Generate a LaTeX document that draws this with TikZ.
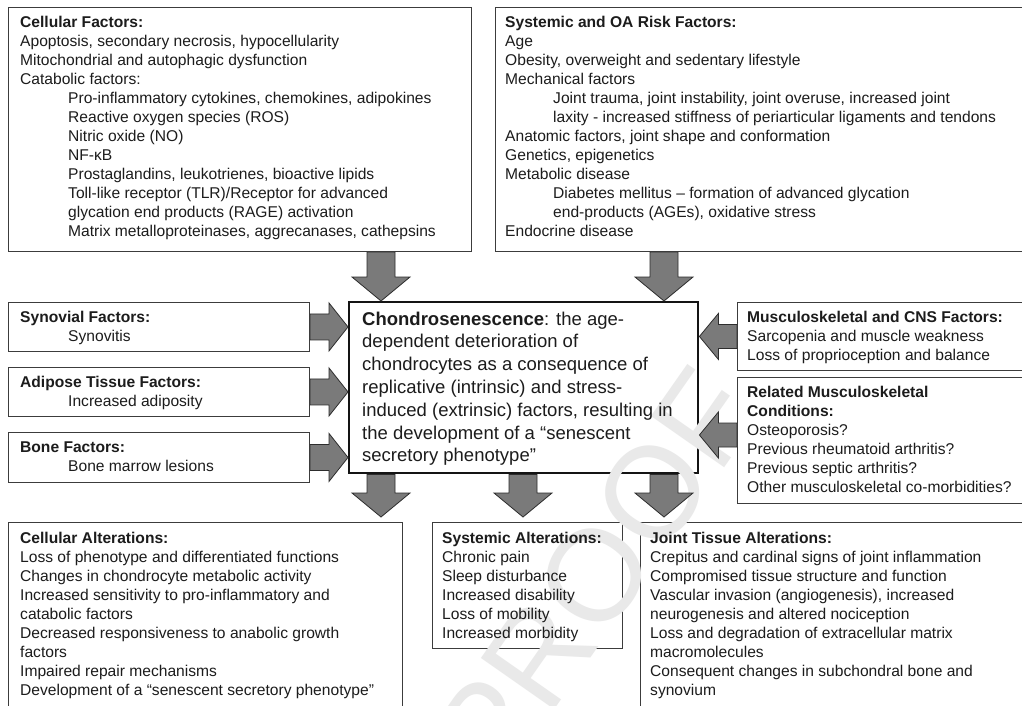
\documentclass[tikz,border=0pt]{standalone}
\usepackage{fontspec}
\setmainfont{Liberation Sans}
\usetikzlibrary{calc}
\definecolor{arrfill}{RGB}{122,122,122}
\definecolor{arredge}{RGB}{45,45,45}
\definecolor{boxedge}{RGB}{60,60,60}
\definecolor{ink}{RGB}{28,28,28}
\definecolor{wmgray}{RGB}{233,233,233}
\newcommand\Lx[1]{\hbox{#1}}
\newcommand\Ly[1]{\hbox{\hskip48pt #1}}
\newcommand\arrdown[2]{\path[barrow] let \p1=(#1), \p2=(#2) in
  (\x1-14pt,\y1) -- (\x1+14pt,\y1) -- (\x1+14pt,\y2+24pt) -- (\x1+29pt,\y2+24pt)
  -- (\x1,\y2) -- (\x1-29pt,\y2+24pt) -- (\x1-14pt,\y2+24pt) -- cycle;}
\newcommand\arrright[2]{\path[barrow] let \p1=(#1), \p2=(#2) in
  (\x1,\y1+13pt) -- (\x2-19pt,\y1+13pt) -- (\x2-19pt,\y1+24pt) -- (\x2,\y1)
  -- (\x2-19pt,\y1-24pt) -- (\x2-19pt,\y1-13pt) -- (\x1,\y1-13pt) -- cycle;}
\newcommand\arrleft[2]{\path[barrow] let \p1=(#1), \p2=(#2) in
  (\x1,\y1+12pt) -- (\x2+19pt,\y1+12pt) -- (\x2+19pt,\y1+23pt) -- (\x2,\y1)
  -- (\x2+19pt,\y1-23pt) -- (\x2+19pt,\y1-12pt) -- (\x1,\y1-12pt) -- cycle;}
\tikzset{
  box/.style={draw=boxedge, line width=0.9pt, fill=white, inner sep=0pt, anchor=north west},
  mainbox/.style={box, draw=black!92, line width=2.4pt},
  barrow/.style={fill=arrfill, draw=arredge, line width=0.8pt, line join=miter},
  txt/.style={inner sep=0pt, anchor=base west, text=ink, font=\fontsize{15.6}{19}\selectfont},
  ctxt/.style={txt, font=\fontsize{18.5}{22.8}\selectfont},
  wm/.style={inner sep=0pt, text=wmgray, font=\fontsize{130}{130}\selectfont}
}
\begin{document}
\begin{tikzpicture}[x=1pt,y=1pt]
\useasboundingbox (0,0) rectangle (1022,-706);
\clip (0,0) rectangle (1022,-706);
\fill[white] (0,0) rectangle (1022,-706);

% boxes
\node[box, minimum width=463, minimum height=244] (b1) at (8,-7) {};
\node[box, minimum width=540, minimum height=244] (b2) at (495,-7) {};
\node[mainbox, minimum width=349, minimum height=171] (c) at (348,-301) {};
\node[box, minimum width=301, minimum height=49] (s1) at (8,-302) {};
\node[box, minimum width=301, minimum height=49] (s2) at (8,-367) {};
\node[box, minimum width=301, minimum height=50] (s3) at (8,-432) {};
\node[box, minimum width=300, minimum height=68] (r1) at (737,-302) {};
\node[box, minimum width=300, minimum height=126] (r2) at (737,-377) {};
\node[box, minimum width=394, minimum height=200] (d1) at (8,-522) {};
\node[box, minimum width=190, minimum height=126] (d2) at (432,-522) {};
\node[box, minimum width=400, minimum height=200] (d3) at (640,-522) {};

% watermark
\node[wm, rotate=55] (wm) at (595,-575) {PROOF};

% arrow positions
\coordinate (ax1) at (381,0);
\coordinate (ax2) at (664,0);
\coordinate (ax3) at (523,0);
\coordinate (ry) at (0,-435);

\arrdown{b1.south -| ax1}{c.north -| ax1}
\arrdown{b2.south -| ax2}{c.north -| ax2}
\arrright{s1.east}{s1.east -| c.west}
\arrright{s2.east}{s2.east -| c.west}
\arrright{s3.east}{s3.east -| c.west}
\arrleft{r1.west}{r1.west -| c.east}
\arrleft{r2.west |- ry}{c.east |- ry}
\arrdown{c.south -| ax1}{$(d1.north -| ax1)+(0,5)$}
\arrdown{c.south -| ax3}{$(d2.north -| ax3)+(0,5)$}
\arrdown{c.south -| ax2}{$(d3.north -| ax2)+(0,5)$}

% texts
\node[txt] (t1) at ($(b1.north west)+(12,-21)$) {\vtop{%
\Lx{\bfseries Cellular Factors:}
\Lx{Apoptosis, secondary necrosis, hypocellularity}
\Lx{Mitochondrial and autophagic dysfunction}
\Lx{Catabolic factors:}
\Ly{Pro-inflammatory cytokines, chemokines, adipokines}
\Ly{Reactive oxygen species (ROS)}
\Ly{Nitric oxide (NO)}
\Ly{NF-κB}
\Ly{Prostaglandins, leukotrienes, bioactive lipids}
\Ly{Toll-like receptor (TLR)/Receptor for advanced}
\Ly{glycation end products (RAGE) activation}
\Ly{Matrix metalloproteinases, aggrecanases, cathepsins}}};

\node[txt] (t2) at ($(b2.north west)+(10,-21)$) {\vtop{%
\Lx{\bfseries Systemic and OA Risk Factors:}
\Lx{Age}
\Lx{Obesity, overweight and sedentary lifestyle}
\Lx{Mechanical factors}
\Ly{Joint trauma, joint instability, joint overuse, increased joint}
\Ly{laxity - increased stiffness of periarticular ligaments and tendons}
\Lx{Anatomic factors, joint shape and conformation}
\Lx{Genetics, epigenetics}
\Lx{Metabolic disease}
\Ly{Diabetes mellitus – formation of advanced glycation}
\Ly{end-products (AGEs), oxidative stress}
\Lx{Endocrine disease}}};

\node[ctxt] (tc) at ($(c.north west)+(14,-24)$) {\vtop{%
\Lx{\textbf{Chondrosenescence}: the age-}
\Lx{dependent deterioration of}
\Lx{chondrocytes as a consequence of}
\Lx{replicative (intrinsic) and stress-}
\Lx{induced (extrinsic) factors, resulting in}
\Lx{the development of a “senescent}
\Lx{secretory phenotype”}}};

\node[txt] (ts1) at ($(s1.north west)+(12,-20.5)$) {\vtop{%
\Lx{\bfseries Synovial Factors:}
\Ly{Synovitis}}};
\node[txt] (ts2) at ($(s2.north west)+(12,-20.5)$) {\vtop{%
\Lx{\bfseries Adipose Tissue Factors:}
\Ly{Increased adiposity}}};
\node[txt] (ts3) at ($(s3.north west)+(12,-20.5)$) {\vtop{%
\Lx{\bfseries Bone Factors:}
\Ly{Bone marrow lesions}}};

\node[txt] (tr1) at ($(r1.north west)+(10,-20.5)$) {\vtop{%
\Lx{\bfseries Musculoskeletal and CNS Factors:}
\Lx{Sarcopenia and muscle weakness}
\Lx{Loss of proprioception and balance}}};
\node[txt] (tr2) at ($(r2.north west)+(10,-20.5)$) {\vtop{%
\Lx{\bfseries Related Musculoskeletal}
\Lx{\bfseries Conditions:}
\Lx{Osteoporosis?}
\Lx{Previous rheumatoid arthritis?}
\Lx{Previous septic arthritis?}
\Lx{Other musculoskeletal co-morbidities?}}};

\node[txt] (td1) at ($(d1.north west)+(12,-21)$) {\vtop{%
\Lx{\bfseries Cellular Alterations:}
\Lx{Loss of phenotype and differentiated functions}
\Lx{Changes in chondrocyte metabolic activity}
\Lx{Increased sensitivity to pro-inflammatory and}
\Lx{catabolic factors}
\Lx{Decreased responsiveness to anabolic growth}
\Lx{factors}
\Lx{Impaired repair mechanisms}
\Lx{Development of a “senescent secretory phenotype”}}};
\node[txt] (td2) at ($(d2.north west)+(10,-21)$) {\vtop{%
\Lx{\bfseries Systemic Alterations:}
\Lx{Chronic pain}
\Lx{Sleep disturbance}
\Lx{Increased disability}
\Lx{Loss of mobility}
\Lx{Increased morbidity}}};
\node[txt] (td3) at ($(d3.north west)+(10,-21)$) {\vtop{%
\Lx{\bfseries Joint Tissue Alterations:}
\Lx{Crepitus and cardinal signs of joint inflammation}
\Lx{Compromised tissue structure and function}
\Lx{Vascular invasion (angiogenesis), increased}
\Lx{neurogenesis and altered nociception}
\Lx{Loss and degradation of extracellular matrix}
\Lx{macromolecules}
\Lx{Consequent changes in subchondral bone and}
\Lx{synovium}}};
\end{tikzpicture}
\end{document}
